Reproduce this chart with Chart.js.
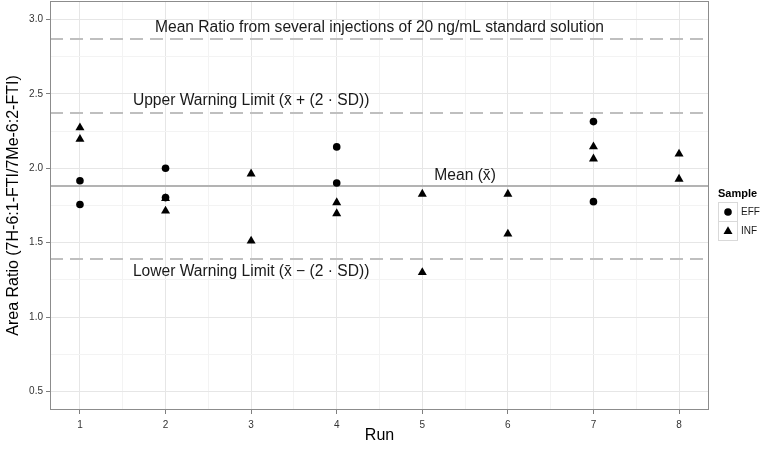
<!DOCTYPE html>
<html>
<head>
<meta charset="utf-8">
<script src="https://cdn.jsdelivr.net/npm/chart.js@4/dist/chart.umd.min.js"></script>
<style>
  html, body { margin: 0; padding: 0; background: #ffffff; }
  #wrap { width: 761px; height: 451px; }
</style>
</head>
<body>
<div id="wrap"><canvas id="c" width="761" height="451"></canvas></div>
<script>
// ---- data ----
const runTicks = [1, 2, 3, 4, 5, 6, 7, 8];
const yTickLabels = [0.5, 1.0, 1.5, 2.0, 2.5, 3.0];

const effRuns   = [1, 1, 2, 2, 4, 4, 7, 7];
const effRatios = [1.916, 1.757, 2.000, 1.803, 2.144, 1.901, 2.314, 1.776];

const infRuns   = [1, 1, 2, 2, 3, 3, 4, 4, 5, 5, 6, 6, 7, 7, 8, 8];
const infRatios = [2.273, 2.196, 1.797, 1.713, 1.963, 1.512, 1.770, 1.696,
                   1.827, 1.300, 1.827, 1.559, 2.146, 2.064, 2.097, 1.928];

const standardMean = 2.870;
const meanRatio = 1.883;
const upperWarning = 2.373;
const lowerWarning = 1.393;

const labelTexts = [
  'Mean Ratio from several injections of 20 ng/mL standard solution',
  'Upper Warning Limit (x\u0304 + (2 \u00B7 SD))',
  'Mean (x\u0304)',
  'Lower Warning Limit (x\u0304 \u2212 (2 \u00B7 SD))'
];
const labelRuns = [4.5, 3.0, 5.5, 3.0];
const labelRatios = [2.948, 2.452, 1.950, 1.306];

// ---- plugin: reference lines, labels, border, legend ----
const refPlugin = {
  id: 'refPlugin',
  beforeDatasetsDraw(chart) {
    const {ctx, chartArea: a, scales: {x, y}} = chart;
    ctx.save();
    ctx.lineWidth = 2;
    ctx.strokeStyle = '#bfbfbf';
    ctx.setLineDash([13, 7]);
    [standardMean, upperWarning, lowerWarning].forEach(v => {
      const py = Math.round(y.getPixelForValue(v));
      ctx.beginPath(); ctx.moveTo(a.left, py); ctx.lineTo(a.right, py); ctx.stroke();
    });
    ctx.setLineDash([]);
    ctx.strokeStyle = '#b3b3b3';
    const pm = Math.round(y.getPixelForValue(meanRatio));
    ctx.beginPath(); ctx.moveTo(a.left, pm); ctx.lineTo(a.right, pm); ctx.stroke();

    ctx.fillStyle = '#1a1a1a';
    ctx.font = '15.6px "Liberation Sans", Arial, sans-serif';
    ctx.textAlign = 'center';
    ctx.textBaseline = 'middle';
    labelTexts.forEach((t, i) => {
      ctx.fillText(t, x.getPixelForValue(labelRuns[i]), y.getPixelForValue(labelRatios[i]));
    });
    ctx.restore();
  },
  afterDraw(chart) {
    const {ctx, chartArea: a} = chart;
    ctx.save();
    ctx.strokeStyle = '#8c8c8c';
    ctx.lineWidth = 1;
    ctx.strokeRect(a.left + 0.5, a.top + 0.5, a.right - a.left - 1, a.bottom - a.top - 1);

    // legend
    const lx = 718, ly = 202, kw = 19, kh = 19;
    ctx.fillStyle = '#000';
    ctx.font = 'bold 11px "Liberation Sans", Arial, sans-serif';
    ctx.textAlign = 'left';
    ctx.textBaseline = 'middle';
    ctx.fillText('Sample', lx, 194);
    const items = [['EFF', 'circle', 3.8], ['INF', 'triangle', 5.2]];
    items.forEach((it, i) => {
      const top = ly + i * kh;
      ctx.strokeStyle = '#d9d9d9';
      ctx.lineWidth = 1;
      ctx.strokeRect(lx + 0.5, top + 0.5, kw, kh);
      ctx.fillStyle = '#000';
      ctx.strokeStyle = '#000';
      Chart.helpers.drawPoint(ctx, {pointStyle: it[1], radius: it[2], borderWidth: 0, rotation: 0},
        lx + kw / 2 + 0.5, top + kh / 2 + (it[1] === 'triangle' ? 1 : 0.5));
      ctx.fillStyle = '#1a1a1a';
      ctx.font = '10px "Liberation Sans", Arial, sans-serif';
      ctx.fillText(it[0], lx + kw + 4, top + kh / 2 + 1);
    });
    ctx.restore();
  }
};

const effData = effRuns.map((r, i) => ({x: r, y: effRatios[i]}));
const infData = infRuns.map((r, i) => ({x: r, y: infRatios[i]}));

const majorX = v => Number.isInteger(v);
const majorY = v => Math.abs(v * 2 - Math.round(v * 2)) < 1e-6;

new Chart(document.getElementById('c'), {
  type: 'scatter',
  data: {
    datasets: [
      {label: 'INF', data: infData, pointStyle: 'triangle', pointRadius: 5.2, pointHoverRadius: 5.2,
       backgroundColor: '#000', borderColor: '#000', borderWidth: 0},
      {label: 'EFF', data: effData, pointStyle: 'circle', pointRadius: 3.8, pointHoverRadius: 3.8,
       backgroundColor: '#000', borderColor: '#000', borderWidth: 0}
    ]
  },
  options: {
    responsive: false,
    animation: false,
    events: [],
    layout: {autoPadding: false, padding: {top: 1, right: 52, left: 0, bottom: 0}},
    plugins: {legend: {display: false}, tooltip: {enabled: false}},
    scales: {
      x: {
        type: 'linear', min: 0.65, max: 8.35,
        afterBuildTicks: s => { s.ticks = [];
          for (let v = 1; v <= 8; v += 0.5) s.ticks.push({value: v}); },
        afterFit: s => { s.height = 41; s.paddingLeft = 0; s.paddingRight = 0; },
        border: {display: false},
        grid: {
          color: c => majorX(c.tick.value) ? '#e6e6e6' : '#f3f3f3',
          tickColor: c => majorX(c.tick.value) ? '#7f7f7f' : 'rgba(0,0,0,0)',
          tickLength: 4, lineWidth: 1
        },
        ticks: {
          callback: v => runTicks.includes(v) ? String(v) : '',
          color: '#333', padding: 5, maxRotation: 0, autoSkip: false,
          font: {size: 10, family: '"Liberation Sans", Arial, sans-serif'}
        },
        title: {display: true, text: 'Run', color: '#000',
          font: {size: 16, family: '"Liberation Sans", Arial, sans-serif'}, padding: {top: 6, bottom: 6}}
      },
      y: {
        type: 'linear', min: 0.375, max: 3.125,
        afterBuildTicks: s => { s.ticks = [];
          for (let v = 0.5; v <= 3.0001; v += 0.25) s.ticks.push({value: Math.round(v * 100) / 100}); },
        afterFit: s => { s.width = 50; s.paddingTop = 0; s.paddingBottom = 0; },
        border: {display: false},
        grid: {
          color: c => majorY(c.tick.value) ? '#e6e6e6' : '#f3f3f3',
          tickColor: c => majorY(c.tick.value) ? '#7f7f7f' : 'rgba(0,0,0,0)',
          tickLength: 4, lineWidth: 1
        },
        ticks: {
          callback: v => { const m = yTickLabels.find(t => Math.abs(t - v) < 1e-6);
            return m === undefined ? '' : m.toFixed(1); },
          color: '#333', padding: 3, autoSkip: false,
          font: {size: 10, family: '"Liberation Sans", Arial, sans-serif'}
        },
        title: {display: true, text: 'Area Ratio (7H-6:1-FTI/7Me-6:2-FTI)', color: '#000',
          font: {size: 16, family: '"Liberation Sans", Arial, sans-serif'}, padding: {top: 4, bottom: 4}}
      }
    }
  },
  plugins: [refPlugin]
});
</script>
</body>
</html>
